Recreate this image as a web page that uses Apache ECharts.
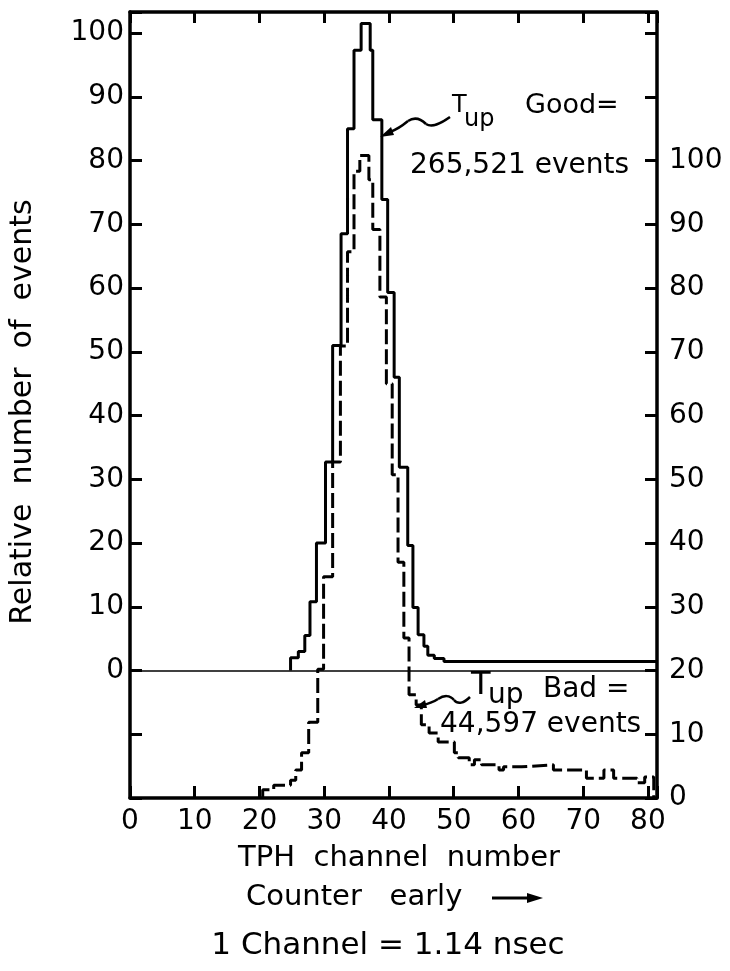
<!DOCTYPE html>
<html><head><meta charset="utf-8">
<script src="https://cdn.jsdelivr.net/npm/echarts@6/dist/echarts.min.js"></script>
<style>html,body{margin:0;padding:0;background:#fff}#c{width:730px;height:971px}</style>
</head><body><div id="c"></div>
<script>
// Tick labels
const xTickLabels = [0, 10, 20, 30, 40, 50, 60, 70, 80];
const leftTickLabels = [0, 10, 20, 30, 40, 50, 60, 70, 80, 90, 100];
const rightTickLabels = [0, 10, 20, 30, 40, 50, 60, 70, 80, 90, 100];

// T_up Good histogram (left axis): bin edges in TPH channels, heights
const goodEdges = [24.8, 26.0, 27.0, 27.8, 28.8, 30.2, 31.3, 32.6, 33.6, 34.6, 35.7, 37.1, 37.5, 38.9, 39.8, 40.8, 41.6, 42.9, 43.7, 44.5, 45.4, 46.0, 47.0, 48.5, 81.4];
const goodValues = [2, 3, 5.5, 10.8, 20, 32.7, 51, 68.5, 85, 97.3, 101.5, 97.3, 86.4, 73.9, 59.3, 46, 31.9, 19.6, 9.9, 5.6, 3.8, 2.4, 1.9, 1.4];

// T_up Bad histogram (right axis): bin edges in TPH channels, heights
const badEdges = [20.5, 22.2, 24.8, 25.6, 26.5, 27.6, 29.0, 29.9, 31.3, 32.5, 33.6, 34.6, 35.5, 36.9, 37.5, 38.6, 39.6, 40.5, 41.4, 42.3, 43.1, 44.2, 45.0, 46.2, 47.6, 50.1, 50.7, 52.4, 53.2, 54.3, 57.0, 57.7, 60.5, 65.4, 70.5, 73.2, 74.7, 78.3, 79.5, 80.9];
const badValues = [1.3, 2.0, 2.8, 4.4, 7.1, 11.9, 20.2, 34.7, 52.7, 70.9, 85.7, 98.3, 100.8, 97.0, 89.2, 78.6, 65.0, 50.7, 37.0, 25.1, 16.2, 14.6, 11.5, 10.2, 8.8, 7.1, 6.3, 5.2, 6.0, 5.2, 4.4, 4.9, 5.2, 4.4, 3.1, 4.4, 3.1, 2.4, 3.3];

function stepPoints(edges, vals, base, dropAtEnd) {
  const pts = [[edges[0], base]];
  for (let i = 0; i < vals.length; i++) {
    pts.push([edges[i], vals[i]]);
    pts.push([edges[i + 1], vals[i]]);
  }
  if (dropAtEnd) pts.push([edges[edges.length - 1], base]);
  return pts;
}

const FONT = 'DejaVu Sans';
const chart = echarts.init(document.getElementById('c'), null, {renderer: 'canvas'});

const frameLine = {show: true, onZero: false, lineStyle: {color: '#000', width: 3.5}};
const tickStyle = {color: '#000', width: 3};

function curve(x1, y1, cx1, cy1, cx2, cy2, x2, y2) {
  return {type: 'bezierCurve', shape: {x1: x1, y1: y1, cpx1: cx1, cpy1: cy1, cpx2: cx2, cpy2: cy2, x2: x2, y2: y2},
    style: {fill: 'none', stroke: '#000', lineWidth: 2.5}};
}

chart.setOption({
  animation: false,
  backgroundColor: '#fff',
  grid: {left: 130, right: 73, top: 12, bottom: 173},
  xAxis: [
    {type: 'value', position: 'bottom', min: 0, max: 81.4, interval: 10,
     axisLine: frameLine, splitLine: {show: false},
     axisTick: {show: true, inside: true, length: 12, lineStyle: tickStyle},
     axisLabel: {fontFamily: FONT, fontSize: 28, color: '#000', margin: 10,
       formatter: v => xTickLabels.includes(v) ? String(v) : ''}},
    {type: 'value', position: 'top', min: 0, max: 81.4, interval: 10,
     axisLine: frameLine, splitLine: {show: false},
     axisTick: {show: true, inside: true, length: 11, lineStyle: tickStyle},
     axisLabel: {show: false}}
  ],
  yAxis: [
    {type: 'value', position: 'left', min: -20, max: 103.3, interval: 10,
     axisLine: frameLine, splitLine: {show: false},
     axisTick: {show: true, inside: true, length: 12, lineStyle: tickStyle},
     axisLabel: {fontFamily: FONT, fontSize: 28, color: '#000', margin: 6,
       formatter: v => leftTickLabels.includes(v) ? String(v) : ''}},
    {type: 'value', position: 'right', min: 0, max: 123.3, interval: 10,
     axisLine: frameLine, splitLine: {show: false},
     axisTick: {show: true, inside: true, length: 12, lineStyle: tickStyle},
     axisLabel: {fontFamily: FONT, fontSize: 28, color: '#000', margin: 12,
       formatter: v => rightTickLabels.includes(v) ? String(v) : ''}}
  ],
  series: [
    {name: 'Tup Good', type: 'line', xAxisIndex: 0, yAxisIndex: 0,
     data: stepPoints(goodEdges, goodValues, 0, false),
     symbol: 'none', lineStyle: {color: '#000', width: 3},
     markLine: {silent: true, symbol: 'none', label: {show: false},
       lineStyle: {color: '#000', width: 1.6, type: 'solid'},
       data: [{yAxis: 0}]}},
    {name: 'Tup Bad', type: 'line', xAxisIndex: 0, yAxisIndex: 1,
     data: stepPoints(badEdges, badValues, 0, true),
     symbol: 'none', lineStyle: {color: '#000', width: 3, type: [15, 5]}}
  ],
  graphic: [
    {type: 'text', x: 23, y: 412, rotation: Math.PI / 2,
     style: {text: 'Relative  number  of  events', font: '30px "DejaVu Sans"', fill: '#000',
       textAlign: 'center', textVerticalAlign: 'middle'}},
    // Good annotation
    {type: 'text', x: 452, y: 106, style: {text: 'T', font: '24px "DejaVu Sans"', fill: '#000', textVerticalAlign: 'middle'}},
    {type: 'text', x: 464, y: 120, style: {text: 'up', font: '24px "DejaVu Sans"', fill: '#000', textVerticalAlign: 'middle'}},
    {type: 'text', x: 525, y: 106, style: {text: 'Good=', font: '27px "DejaVu Sans"', fill: '#000', textVerticalAlign: 'middle'}},
    {type: 'text', x: 410, y: 166, style: {text: '265,521 events', font: '28px "DejaVu Sans"', fill: '#000', textVerticalAlign: 'middle'}},
    curve(450, 117, 440, 124, 432, 128, 426, 124),
    curve(426, 124, 420, 118, 414, 117, 408, 121),
    curve(408, 121, 402, 126, 398, 129, 390, 132),
    {type: 'polygon', shape: {points: [[380, 137], [391, 127], [394, 135]]}, style: {fill: '#000'}},
    // Bad annotation
    {type: 'text', x: 471, y: 686, style: {text: 'T', font: '32px "DejaVu Sans"', fill: '#000', textVerticalAlign: 'middle'}},
    {type: 'text', x: 488, y: 696, style: {text: 'up', font: '28px "DejaVu Sans"', fill: '#000', textVerticalAlign: 'middle'}},
    {type: 'text', x: 543, y: 690, style: {text: 'Bad =', font: '28px "DejaVu Sans"', fill: '#000', textVerticalAlign: 'middle'}},
    {type: 'text', x: 440, y: 725, style: {text: '44,597 events', font: '28px "DejaVu Sans"', fill: '#000', textVerticalAlign: 'middle'}},
    curve(470, 697, 464, 703, 458, 705, 454, 700),
    curve(454, 700, 450, 695, 444, 695, 438, 699),
    curve(438, 699, 432, 703, 428, 704, 422, 705),
    {type: 'polygon', shape: {points: [[414, 708], [425, 700], [427, 708]]}, style: {fill: '#000'}},
    // bottom texts
    {type: 'text', x: 399, y: 858, style: {text: 'TPH  channel  number', font: '29px "DejaVu Sans"', fill: '#000', textAlign: 'center', textVerticalAlign: 'middle'}},
    {type: 'text', x: 246, y: 897, style: {text: 'Counter   early', font: '29px "DejaVu Sans"', fill: '#000', textVerticalAlign: 'middle'}},
    {type: 'line', shape: {x1: 492, y1: 898, x2: 530, y2: 898}, style: {stroke: '#000', lineWidth: 3}},
    {type: 'polygon', shape: {points: [[527, 893], [543, 898], [527, 903]]}, style: {fill: '#000'}},
    {type: 'text', x: 388, y: 946, style: {text: '1 Channel = 1.14 nsec', font: '31px "DejaVu Sans"', fill: '#000', textAlign: 'center', textVerticalAlign: 'middle'}}
  ]
});
</script>
</body></html>
